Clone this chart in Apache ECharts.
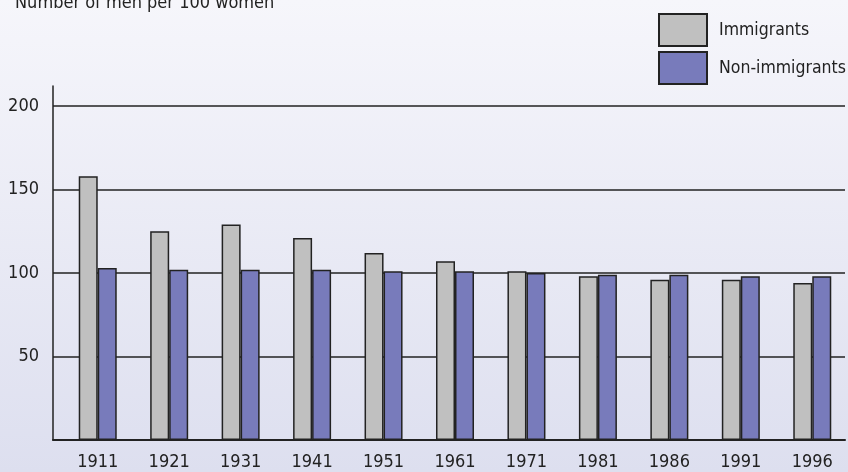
<!DOCTYPE html>
<html>
<head>
<meta charset="utf-8">
<script src="https://cdn.jsdelivr.net/npm/echarts@6/dist/echarts.min.js"></script>
<style>
  html, body { margin: 0; padding: 0; }
  #chart { width: 848px; height: 472px; }
</style>
</head>
<body>
<div id="chart"></div>
<script>
const years = ['1911', '1921', '1931', '1941', '1951', '1961', '1971', '1981', '1986', '1991', '1996'];
const immigrants = [158, 125, 129, 121, 112, 107, 101, 98, 96, 96, 94];
const nonImmigrants = [103, 102, 102, 102, 101, 101, 100, 99, 99, 98, 98];
const yTicks = [0, 50, 100, 150, 200];

const font = '"DejaVu Sans Condensed", "Liberation Sans Narrow", Roboto, sans-serif';
const ink = '#222';

const chart = echarts.init(document.getElementById('chart'));

chart.setOption({
  backgroundColor: {
    type: 'linear', x: 0, y: 0, x2: 0, y2: 1,
    colorStops: [
      { offset: 0, color: '#f6f6fb' },
      { offset: 1, color: '#dddfef' }
    ]
  },
  animation: false,
  title: {
    text: 'Number of men per 100 women',
    left: 10,
    top: -11,
    textStyle: { fontFamily: font, fontSize: 18, fontWeight: 'normal', color: ink }
  },
  legend: {
    orient: 'vertical',
    left: 653,
    top: 8,
    itemWidth: 48,
    itemHeight: 32,
    itemGap: 4,
    icon: 'rect',
    data: ['Immigrants', 'Non-immigrants'],
    textStyle: { fontFamily: font, fontSize: 17.5, color: ink, padding: [0, 0, 0, 7] }
  },
  grid: [
    // frame: gridlines, y labels, bottom axis
    { left: 53, right: 3, top: 106, bottom: 32 },
    // bars, shifted like the original
    { left: 62, width: 792, top: 106, bottom: 32 },
    // y axis line, reaching above the top gridline
    { left: 53, width: 1, top: 86, bottom: 32 }
  ],
  xAxis: [
    {
      gridIndex: 0, type: 'category', data: years,
      axisLine: { lineStyle: { color: ink, width: 2 } },
      axisTick: { show: false }, axisLabel: { show: false }
    },
    {
      gridIndex: 1, type: 'category', data: years,
      axisLine: { show: false }, axisTick: { show: false },
      axisLabel: { interval: 0, margin: 13, fontFamily: font, fontSize: 18, color: ink }
    },
    {
      gridIndex: 2, type: 'category', data: [''],
      axisLine: { show: false }, axisTick: { show: false }, axisLabel: { show: false }
    }
  ],
  yAxis: [
    {
      gridIndex: 0, type: 'value', min: yTicks[0], max: yTicks[yTicks.length - 1], interval: 50,
      axisLine: { show: false }, axisTick: { show: false },
      axisLabel: {
        margin: 14, fontFamily: font, fontSize: 18, color: ink,
        formatter: v => (v === 0 ? '' : v)
      },
      splitLine: { lineStyle: { color: ink, width: 1.5 } }
    },
    {
      gridIndex: 1, type: 'value', min: yTicks[0], max: yTicks[yTicks.length - 1],
      show: false
    },
    {
      gridIndex: 2, type: 'value', min: 0, max: 1,
      axisLine: { show: true, lineStyle: { color: ink, width: 1.5 } },
      axisTick: { show: false }, axisLabel: { show: false }, splitLine: { show: false }
    }
  ],
  series: [
    {
      name: 'Immigrants',
      type: 'bar',
      xAxisIndex: 1,
      yAxisIndex: 1,
      data: immigrants,
      barWidth: 19,
      barGap: 0,
      itemStyle: { color: '#c0c0c0', borderColor: ink, borderWidth: 1.5 }
    },
    {
      name: 'Non-immigrants',
      type: 'bar',
      xAxisIndex: 1,
      yAxisIndex: 1,
      data: nonImmigrants,
      barWidth: 19,
      barGap: 0,
      itemStyle: { color: '#787bbb', borderColor: ink, borderWidth: 1.5 }
    }
  ]
});
</script>
</body>
</html>
